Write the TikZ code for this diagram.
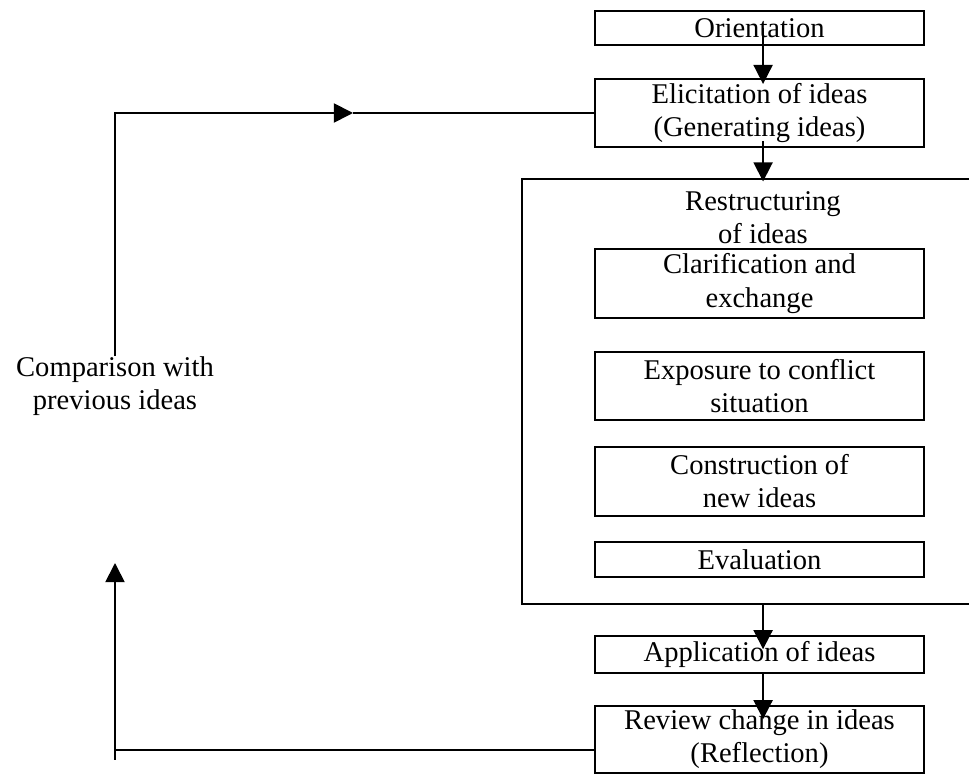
\documentclass[tikz,border=0pt]{standalone}
\usepackage{fontspec}
\setmainfont{Liberation Serif}
\usetikzlibrary{arrows.meta}

\begin{document}
\begin{tikzpicture}[x=0.42pt, y=-0.42pt, line width=0.75pt,
    font=\fontsize{12}{13.9}\selectfont,
    stage/.style={draw, minimum width=138.2pt, inner sep=0pt, align=center},
    flow/.style={-{Triangle[length=8pt, width=8pt]}}]
  \useasboundingbox (0,0) rectangle (969,775);
  % main column
  \node[stage, minimum height=14.3pt] (orient) at (759.5,28) {Orientation};
  \node[stage, minimum height=28.6pt] (elicit) at (759.5,113) {Elicitation of ideas\\(Generating ideas)};
  \node[stage, minimum height=15.5pt] (apply) at (759.5,654.5) {Application of ideas};
  \node[stage, minimum height=28.1pt] (review) at (759.5,739.5) {Review change in ideas\\(Reflection)};
  % restructuring frame, open on the right
  \node[minimum width=187.3pt, minimum height=177.7pt, inner sep=0pt] (restr) at (746,391.5) {};
  \draw (restr.north east) -- (restr.north west) -- (restr.south west) -- (restr.south east);
  \node[align=center, inner sep=0pt] (restitle) at (763,217.5) {Restructuring\\of ideas};
  \node[stage, minimum height=29pt] (clarif) at (759.5,283.5) {Clarification and\\exchange};
  \node[stage, minimum height=28.6pt] (expose) at (759.5,386) {Exposure to conflict\\situation};
  \node[stage, minimum height=29pt] (construct) at (759.5,481.5) {Construction of\\new ideas};
  \node[stage, minimum height=14.7pt] (evaluate) at (759.5,559.5) {Evaluation};
  % downward arrows
  \draw[flow, shorten >=-2.5pt] ([xshift=1.5pt]orient.center) -- ([xshift=1.5pt]elicit.north);
  \draw[flow, shorten >=-1pt] ([xshift=1.5pt, yshift=3pt]elicit.south) -- ([xshift=1.5pt]elicit.south |- restr.north);
  \draw[flow, shorten >=-5.9pt] ([xshift=1.5pt]apply.north |- restr.south) -- ([xshift=1.5pt]apply.north);
  \draw[flow, shorten >=-5.9pt] ([xshift=1.5pt]apply.south) -- ([xshift=1.5pt]review.north);
  % feedback loop
  \node[align=center, inner sep=0pt] (compare) at (115,386.5) {Comparison with\\previous ideas};
  \coordinate (corner) at (115,760);
  \coordinate (uptip) at (115,563);
  \coordinate (midtip) at (353,113);
  \draw ([yshift=-4.4pt]review.west) -- ++(-480,0);
  \draw[flow] (corner) -- (uptip);
  \draw[flow] (compare.north) |- (midtip);
  \draw (midtip) -- (elicit.west);
\end{tikzpicture}
\end{document}
